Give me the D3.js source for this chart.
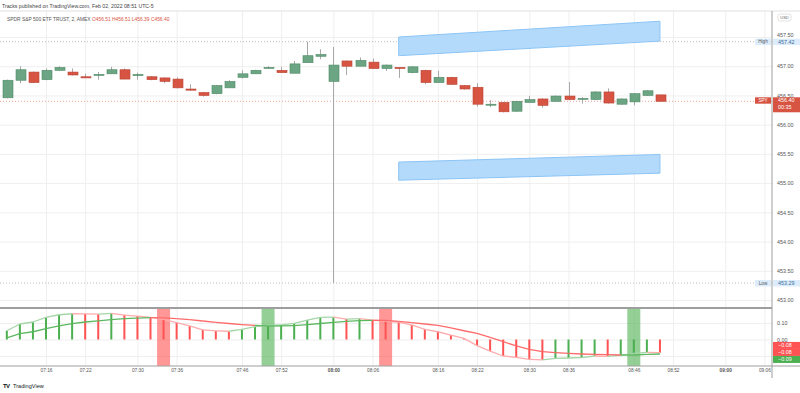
<!DOCTYPE html>
<html>
<head>
<meta charset="utf-8">
<script src="https://cdn.jsdelivr.net/npm/d3@7"></script>
<style>
body { margin: 0; background: #fff; }
svg { display: block; font-family: "Liberation Sans", Arial, sans-serif; }
</style>
</head>
<body>
<svg id="grafica" width="800" height="393"></svg>
<script>
// velas de 2 minutos del SPY
horas = ['07:10', '07:12', '07:14', '07:16', '07:18', '07:20', '07:22', '07:24', '07:26', '07:28',
    '07:30', '07:32', '07:34', '07:36', '07:38', '07:40', '07:42', '07:44', '07:46', '07:48',
    '07:50', '07:52', '07:54', '07:56', '07:58', '08:00', '08:02', '08:04', '08:06', '08:08',
    '08:10', '08:12', '08:14', '08:16', '08:18', '08:20', '08:22', '08:24', '08:26', '08:28',
    '08:30', '08:32', '08:34', '08:36', '08:38', '08:40', '08:42', '08:44', '08:46', '08:48', '08:50']
aperturas = [456.46, 456.76, 456.90, 456.77, 456.93, 456.90, 456.82, 456.85, 456.87, 456.94,
    456.84, 456.82, 456.80, 456.78, 456.61, 456.55, 456.53, 456.63, 456.81, 456.87,
    456.97, 456.93, 456.88, 457.06, 457.17, 456.74, 457.09, 457.00, 457.07, 456.96,
    456.98, 456.89, 456.93, 456.72, 456.81, 456.67, 456.64, 456.35, 456.38, 456.23,
    456.38, 456.44, 456.40, 456.49, 456.44, 456.43, 456.56, 456.35, 456.39, 456.50, 456.51]
maximos = [456.77, 457.00, 456.91, 456.96, 457.00, 456.96, 456.87, 456.90, 456.99, 456.96,
    456.89, 456.83, 456.81, 456.81, 456.69, 456.56, 456.68, 456.76, 456.93, 456.94,
    457.00, 456.99, 457.09, 457.42, 457.29, 457.33, 457.10, 457.15, 457.13, 457.03,
    456.98, 457.00, 456.94, 456.92, 456.82, 456.68, 456.71, 456.42, 456.39, 456.41,
    456.49, 456.45, 456.50, 456.73, 456.47, 456.57, 456.62, 456.45, 456.54, 456.59, 456.51]
minimos = [456.45, 456.71, 456.71, 456.76, 456.93, 456.84, 456.80, 456.77, 456.87, 456.78,
    456.77, 456.76, 456.71, 456.62, 456.58, 456.48, 456.52, 456.63, 456.79, 456.87,
    456.96, 456.89, 456.88, 457.06, 457.12, 453.29, 456.85, 457.00, 456.96, 456.92,
    456.80, 456.88, 456.69, 456.72, 456.68, 456.60, 456.31, 456.30, 456.21, 456.22,
    456.38, 456.29, 456.39, 456.42, 456.36, 456.42, 456.36, 456.34, 456.33, 456.49, 456.39]
cierres = [456.76, 456.94, 456.72, 456.93, 456.98, 456.85, 456.80, 456.86, 456.94, 456.78,
    456.86, 456.77, 456.74, 456.63, 456.59, 456.50, 456.67, 456.74, 456.87, 456.93,
    456.98, 456.89, 457.04, 457.18, 457.20, 457.02, 457.00, 457.10, 456.96, 457.02,
    456.96, 456.99, 456.72, 456.81, 456.69, 456.61, 456.35, 456.35, 456.22, 456.40,
    456.43, 456.33, 456.49, 456.43, 456.45, 456.56, 456.37, 456.44, 456.53, 456.58, 456.40]

// indicador: linea rapida (tambien el histograma) y linea lenta
rapida = [0.053, 0.094, 0.106, 0.134, 0.150, 0.156, 0.155, 0.154, 0.158, 0.148,
    0.142, 0.134, 0.122, 0.102, 0.082, 0.058, 0.052, 0.050, 0.062, 0.078,
    0.086, 0.088, 0.098, 0.118, 0.134, 0.136, 0.124, 0.126, 0.118, 0.112,
    0.104, 0.088, 0.062, 0.047, 0.027, 0.007, -0.037, -0.070, -0.100, -0.108,
    -0.120, -0.124, -0.114, -0.112, -0.110, -0.100, -0.102, -0.096, -0.084, -0.078, -0.080]
lenta = [0.010, 0.035, 0.047, 0.066, 0.082, 0.096, 0.106, 0.113, 0.120, 0.126,
    0.130, 0.132, 0.131, 0.127, 0.120, 0.112, 0.104, 0.097, 0.090, 0.085,
    0.082, 0.082, 0.084, 0.090, 0.097, 0.104, 0.110, 0.114, 0.116, 0.116,
    0.110, 0.102, 0.094, 0.086, 0.070, 0.053, 0.037, 0.013, -0.013, -0.039,
    -0.060, -0.074, -0.080, -0.084, -0.088, -0.090, -0.092, -0.094, -0.094, -0.090, -0.088]

// ejes
precios = [453, 453.5, 454, 454.5, 455, 455.5, 456, 456.5, 457, 457.5]
etiquetasHora = ['07:16', '07:22', '07:30', '07:36', '07:46', '07:52', '08:00', '08:06',
    '08:16', '08:22', '08:30', '08:36', '08:46', '08:52', '09:00', '09:06']
nivelesInd = [-0.1, 0, 0.1]
etiquetasInd = [0, 0.1]

// proyecciones azules
proyHoras = ['08:10', '08:50']
proyAltaSup = [457.50, 457.77]
proyAltaInf = [457.18, 457.43]
proyBajaSup = [455.36, 455.49]
proyBajaInf = [455.05, 455.17]

maximo = 457.42
minimo = 453.29
ultimo = 456.40

colores = {
    sube: '#6ba583', baja: '#d75442',
    verde: '#4caf50', rojo: '#ff5252',
    verdeClaro: '#a5d6a7', rojoClaro: '#ffabab'
}

function minutos(h) { return +h.slice(0, 2) * 60 + +h.slice(3) }

function graficar() {
    svg = d3.select('#grafica')
    datos = horas.map(function (h, i) {
        return { t: minutos(h), o: aperturas[i], h: maximos[i], l: minimos[i], c: cierres[i], r: rapida[i], s: lenta[i] }
    })

    x = d3.scaleLinear().domain([minutos('07:16'), minutos('08:52')]).range([46, 673])
    y = d3.scaleLinear().domain([453, 457.5]).range([300, 37])
    yi = d3.scaleLinear().domain([-0.1, 0.1]).range([356, 323])

    rejilla()
    velas()
    indicador()
    ejes()
    cabecera()
}

function rejilla() {
    var g = svg.append('g').attr('class', 'rejilla')
    g.append('g')
        .attr('transform', 'translate(0,366)')
        .call(d3.axisBottom(x).tickValues(etiquetasHora.map(minutos)).tickSize(-355).tickFormat(''))
    g.append('g')
        .attr('transform', 'translate(772,0)')
        .call(d3.axisLeft(y).tickValues(precios).tickSize(772).tickFormat(''))
    g.append('g')
        .attr('transform', 'translate(772,0)')
        .call(d3.axisLeft(yi).tickValues(nivelesInd).tickSize(772).tickFormat(''))
    g.selectAll('.domain').remove()
    g.selectAll('line').attr('stroke', '#efefef')

    // lineas de maximo, minimo y ultimo precio
    svg.append('line').attr('x1', 0).attr('x2', 772).attr('y1', y(maximo)).attr('y2', y(maximo))
        .attr('stroke', '#bdbdbd').attr('stroke-dasharray', '1,2')
    svg.append('line').attr('x1', 0).attr('x2', 772).attr('y1', y(minimo)).attr('y2', y(minimo))
        .attr('stroke', '#bdbdbd').attr('stroke-dasharray', '1,2')
    svg.append('line').attr('x1', 0).attr('x2', 772).attr('y1', y(ultimo)).attr('y2', y(ultimo))
        .attr('stroke', '#e8a095').attr('stroke-dasharray', '1,2')
}

function velas() {
    svg.append('clipPath').attr('id', 'recorte')
        .append('rect').attr('x', 0).attr('y', 11).attr('width', 772).attr('height', 296)

    var g = svg.append('g').attr('clip-path', 'url(#recorte)')

    // proyecciones
    var bandas = [[proyAltaSup, proyAltaInf], [proyBajaSup, proyBajaInf]]
    g.selectAll('polygon.proy')
        .data(bandas)
        .enter()
        .append('polygon')
        .attr('class', 'proy')
        .attr('points', function (d) {
            var x0 = x(minutos(proyHoras[0])), x1 = x(minutos(proyHoras[1]))
            return [[x0, y(d[0][0])], [x1, y(d[0][1])], [x1, y(d[1][1])], [x0, y(d[1][0])]].join(' ')
        })
        .attr('fill', '#b3dafb')
        .attr('stroke', '#8cc4f5')

    g.selectAll('line.mecha')
        .data(datos)
        .enter()
        .append('line')
        .attr('class', 'mecha')
        .attr('x1', function (d) { return Math.round(x(d.t)) + 0.5 })
        .attr('x2', function (d) { return Math.round(x(d.t)) + 0.5 })
        .attr('y1', function (d) { return y(d.h) })
        .attr('y2', function (d) { return y(d.l) })
        .attr('stroke', '#a8a8a8')

    g.selectAll('rect.cuerpo')
        .data(datos)
        .enter()
        .append('rect')
        .attr('class', 'cuerpo')
        .attr('x', function (d) { return Math.round(x(d.t)) - 4 })
        .attr('width', 10)
        .attr('y', function (d) { return y(Math.max(d.o, d.c)) })
        .attr('height', function (d) { return Math.max(1, Math.abs(y(d.o) - y(d.c))) })
        .attr('fill', function (d) { return d.c >= d.o ? colores.sube : colores.baja })
        .attr('stroke', function (d) { return d.c >= d.o ? '#4f8a66' : '#b94434' })
        .attr('stroke-width', 0.6)
}

function indicador() {
    var g = svg.append('g')

    // cruces de la linea rapida con la lenta
    var cruces = datos.filter(function (d, i) {
        return i > 0 && (d.r > d.s) != (datos[i - 1].r > datos[i - 1].s)
    })
    g.selectAll('rect.cruce')
        .data(cruces)
        .enter()
        .append('rect')
        .attr('class', 'cruce')
        .attr('x', function (d) { return x(d.t) - 6.5 })
        .attr('width', 13)
        .attr('y', 309)
        .attr('height', 57)
        .attr('fill', function (d) { return d.r > d.s ? colores.verde : colores.rojo })
        .attr('opacity', 0.6)

    g.selectAll('line.barra')
        .data(datos)
        .enter()
        .append('line')
        .attr('class', 'barra')
        .attr('x1', function (d) { return x(d.t) })
        .attr('x2', function (d) { return x(d.t) })
        .attr('y1', yi(0))
        .attr('y2', function (d) { return yi(d.r) })
        .attr('stroke', function (d, i) { return i == 0 || d.r > datos[i - 1].r ? colores.verde : colores.rojo })
        .attr('stroke-width', 2)

    var tramos = datos.slice(1).map(function (d, i) { return [datos[i], d] })

    g.selectAll('line.rapida')
        .data(tramos)
        .enter()
        .append('line')
        .attr('class', 'rapida')
        .attr('x1', function (d) { return x(d[0].t) })
        .attr('x2', function (d) { return x(d[1].t) })
        .attr('y1', function (d) { return yi(d[0].r) })
        .attr('y2', function (d) { return yi(d[1].r) })
        .attr('stroke', function (d) { return d[1].r > d[0].r ? colores.verdeClaro : colores.rojoClaro })
        .attr('stroke-width', 1.3)

    g.selectAll('line.lenta')
        .data(tramos)
        .enter()
        .append('line')
        .attr('class', 'lenta')
        .attr('x1', function (d) { return x(d[0].t) })
        .attr('x2', function (d) { return x(d[1].t) })
        .attr('y1', function (d) { return yi(d[0].s) })
        .attr('y2', function (d) { return yi(d[1].s) })
        .attr('stroke', function (d) { return d[1].r > d[1].s ? '#5cb860' : '#ff6b6b' })
        .attr('stroke-width', 1.3)
}

function ejes() {
    // separadores
    svg.append('line').attr('x1', 0).attr('x2', 800).attr('y1', 11).attr('y2', 11).attr('stroke', '#e0e0e0')
    svg.append('line').attr('x1', 0).attr('x2', 772).attr('y1', 308).attr('y2', 308).attr('stroke', '#9e9e9e').attr('stroke-width', 2)
    svg.append('line').attr('x1', 0).attr('x2', 800).attr('y1', 366).attr('y2', 366).attr('stroke', '#9e9e9e')
    svg.append('line').attr('x1', 772).attr('x2', 772).attr('y1', 11).attr('y2', 378).attr('stroke', '#9e9e9e')

    var ep = svg.append('g')
        .attr('transform', 'translate(772,0)')
        .call(d3.axisRight(y).tickValues(precios).tickSize(0).tickPadding(5).tickFormat(d3.format('.2f')))
    var ei = svg.append('g')
        .attr('transform', 'translate(772,0)')
        .call(d3.axisRight(yi).tickValues(etiquetasInd).tickSize(0).tickPadding(5).tickFormat(d3.format('.2f')))
    var et = svg.append('g')
        .attr('transform', 'translate(0,366)')
        .call(d3.axisBottom(x).tickValues(etiquetasHora.map(minutos)).tickSize(0).tickPadding(3)
            .tickFormat(function (d, i) { return etiquetasHora[i] }))
    svg.selectAll('.domain').remove()
    ;[ep, ei, et].forEach(function (e) {
        e.selectAll('text').attr('font-family', null).attr('font-size', 5.4).attr('fill', '#555')
    })
    // la etiqueta superior queda medio tapada por la de High
    ep.selectAll('text').filter(function (d) { return d == 457.5 }).attr('dy', '-0.05em')
    et.selectAll('text').attr('font-size', 4.8)
        .attr('font-weight', function (d, i) { return etiquetasHora[i].slice(3) == '00' ? 'bold' : null })

    // etiquetas del eje de precios
    etiqueta(y(maximo), 'High', maximo.toFixed(2), '#dcecfb', '#3d6c99', '#555')
    etiqueta(y(minimo), 'Low', minimo.toFixed(2), '#dcecfb', '#3d6c99', '#555')
    etiqueta(y(ultimo) - 1, 'SPY', ultimo.toFixed(2), colores.baja, '#fff', '#fff', '00:35')

    // etiquetas del indicador
    var ult = datos[datos.length - 1]
    var valores = [
        { v: ult.r, c: colores.rojo },
        { v: ult.r, c: colores.rojo },
        { v: ult.s, c: colores.verde }
    ]
    var centro = d3.mean(valores, function (d) { return yi(d.v) })
    valores.forEach(function (d, i) {
        var yy = centro - 7.7 + i * 7
        svg.append('rect').attr('x', 773).attr('y', yy - 3.5).attr('width', 27).attr('height', 7).attr('fill', d.c)
        svg.append('text').attr('x', 778).attr('y', yy + 1.9).text(d3.format('.2f')(d.v).replace('-', '−'))
            .attr('font-size', 5.4).attr('fill', '#fff')
    })

    // USD
    svg.append('rect').attr('x', 778).attr('y', 14).attr('width', 13).attr('height', 7).attr('rx', 2)
        .attr('fill', '#fff').attr('stroke', '#d0d0d0').attr('stroke-width', 0.6)
    svg.append('text').attr('x', 784.5).attr('y', 19.2).attr('text-anchor', 'middle').text('USD')
        .attr('font-size', 4).attr('fill', '#666')
}

function etiqueta(yy, nombre, valor, fondo, colorValor, colorNombre, extra) {
    var alto = extra ? 15 : 6.4
    svg.append('rect').attr('x', 755).attr('y', yy - 3).attr('width', 16).attr('height', 6.4).attr('fill', fondo)
    svg.append('text').attr('x', 763).attr('y', yy + 1.8).attr('text-anchor', 'middle').text(nombre)
        .attr('font-size', 4.6).attr('fill', colorNombre)
    svg.append('rect').attr('x', 773).attr('y', yy - 3).attr('width', 27).attr('height', alto).attr('fill', fondo)
    svg.append('text').attr('x', 778).attr('y', yy + 1.9).text(valor).attr('font-size', 5.4).attr('fill', colorValor)
    if (extra) {
        svg.append('text').attr('x', 778).attr('y', yy + 8.9).text(extra).attr('font-size', 5.4).attr('fill', colorValor)
    }
}

function cabecera() {
    svg.append('text').attr('x', 2).attr('y', 7.5)
        .text('Tracks published on TradingView.com, Feb 02, 2022 08:51 UTC-5')
        .attr('font-size', 5.2).attr('fill', '#444')
    var t = svg.append('text').attr('x', 7).attr('y', 20.5).attr('font-size', 4.9).attr('fill', '#555')
    t.append('tspan').text('SPDR S&P 500 ETF TRUST, 2, AMEX ')
    var ult = datos[datos.length - 1]
    t.append('tspan').attr('fill', colores.baja)
        .text('O' + ult.o.toFixed(2) + '  H' + ult.h.toFixed(2) + '  L' + ult.l.toFixed(2) + '  C' + ult.c.toFixed(2))

    // logo
    svg.append('text').attr('x', 3).attr('y', 388).text('TV').attr('font-size', 6).attr('font-weight', 'bold')
        .attr('fill', '#131722').attr('letter-spacing', -0.6)
    svg.append('text').attr('x', 13).attr('y', 388).text('TradingView').attr('font-size', 5.6).attr('fill', '#131722')
}

graficar()
</script>
</body>
</html>
